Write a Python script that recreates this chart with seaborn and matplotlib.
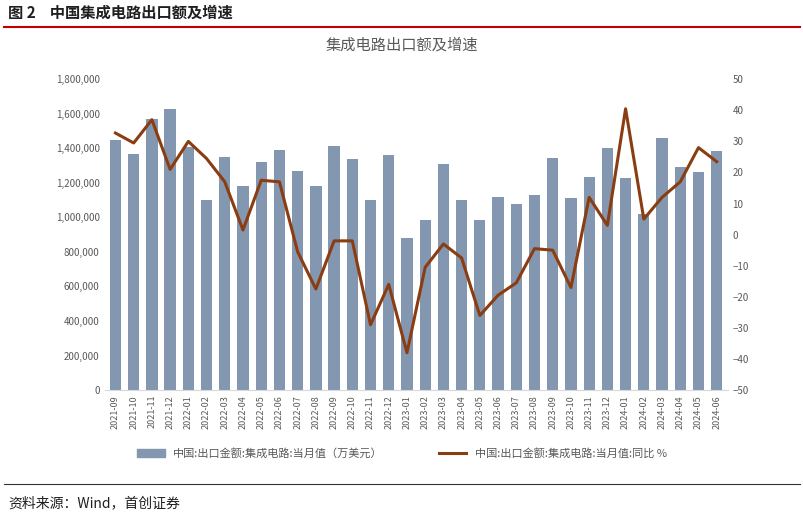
import matplotlib
matplotlib.use("Agg")
import matplotlib.pyplot as plt
import seaborn as sns
import pandas as pd
import numpy as np

plt.rcParams["font.family"] = ["Noto Sans CJK SC", "DejaVu Sans"]

months = ["2021-09","2021-10","2021-11","2021-12","2022-01","2022-02","2022-03","2022-04","2022-05","2022-06",
          "2022-07","2022-08","2022-09","2022-10","2022-11","2022-12","2023-01","2023-02","2023-03","2023-04",
          "2023-05","2023-06","2023-07","2023-08","2023-09","2023-10","2023-11","2023-12","2024-01","2024-02",
          "2024-03","2024-04","2024-05","2024-06"]
export_value = [1450000,1370000,1570000,1630000,1410000,1100000,1350000,1180000,1320000,1390000,
                1270000,1180000,1415000,1340000,1100000,1360000,880000,985000,1310000,1100000,
                985000,1120000,1080000,1130000,1345000,1115000,1235000,1400000,1230000,1020000,
                1460000,1290000,1260000,1385000]
yoy = [32.7,29.5,37,21,30,24.5,17,1.5,17.5,17,-5.5,-17.5,-2,-2,-29,-16,-38,-10.5,-3,-7.5,
       -26,-19.5,-15.5,-4.5,-5,-17,12,3,40.5,5,12,17,28,23.5]

df = pd.DataFrame({"month": months, "value": export_value, "yoy": yoy})

fig = plt.figure(figsize=(8.04, 5.18), dpi=100)
ax = fig.add_axes([0.13, 0.247, 0.775, 0.6])
sns.barplot(data=df, x="month", y="value", color="#8497b0", width=0.62, ax=ax, saturation=1)
ax2 = ax.twinx()
sns.lineplot(x=np.arange(len(months)), y=df["yoy"], color="#8b3d12", linewidth=2.2, ax=ax2)

ax.set_ylim(0, 1800000)
ax.set_yticks(np.arange(0, 1800001, 200000))
ax.set_yticklabels([f"{v:,}" for v in range(0, 1800001, 200000)])
ax2.set_ylim(-50, 50)
ax2.set_yticks(range(-50, 51, 10))
ax.set_xlim(-0.6, len(months) - 0.4)
ax.set_xlabel(""); ax.set_ylabel(""); ax2.set_ylabel("")
ax.tick_params(axis="x", rotation=90, labelsize=6.5, length=0, colors="#595959")
ax.tick_params(axis="y", labelsize=7, length=0, colors="#595959")
ax2.tick_params(axis="y", labelsize=7, length=0, colors="#595959")
for a in (ax, ax2):
    for s in a.spines.values():
        s.set_visible(False)
ax.spines["bottom"].set_visible(True); ax.spines["bottom"].set_color("#d9d9d9")

fig.text(0.5, 0.905, "集成电路出口额及增速", ha="center", fontsize=11, color="#595959")
fig.text(0.01, 0.965, "图 2    中国集成电路出口额及增速", fontsize=11, fontweight="bold", color="#1f1f1f")
fig.add_artist(plt.Line2D([0.005, 0.995], [0.948, 0.948], color="#c00000", lw=1.5))
fig.add_artist(plt.Line2D([0.005, 0.995], [0.065, 0.065], color="#333333", lw=0.8))
fig.text(0.01, 0.02, "资料来源：Wind，首创证券", fontsize=10, style="italic", color="#1f1f1f")

from matplotlib.patches import Patch
from matplotlib.lines import Line2D
handles = [Patch(color="#8497b0"), Line2D([], [], color="#8b3d12", lw=2.2)]
fig.legend(handles, ["中国:出口金额:集成电路:当月值（万美元）", "中国:出口金额:集成电路:当月值:同比 %"],
           loc="center", bbox_to_anchor=(0.5, 0.125), ncol=2, frameon=False, fontsize=8,
           labelcolor="#595959", columnspacing=5, handlelength=2.5)
fig.savefig("out.png", dpi=100)
